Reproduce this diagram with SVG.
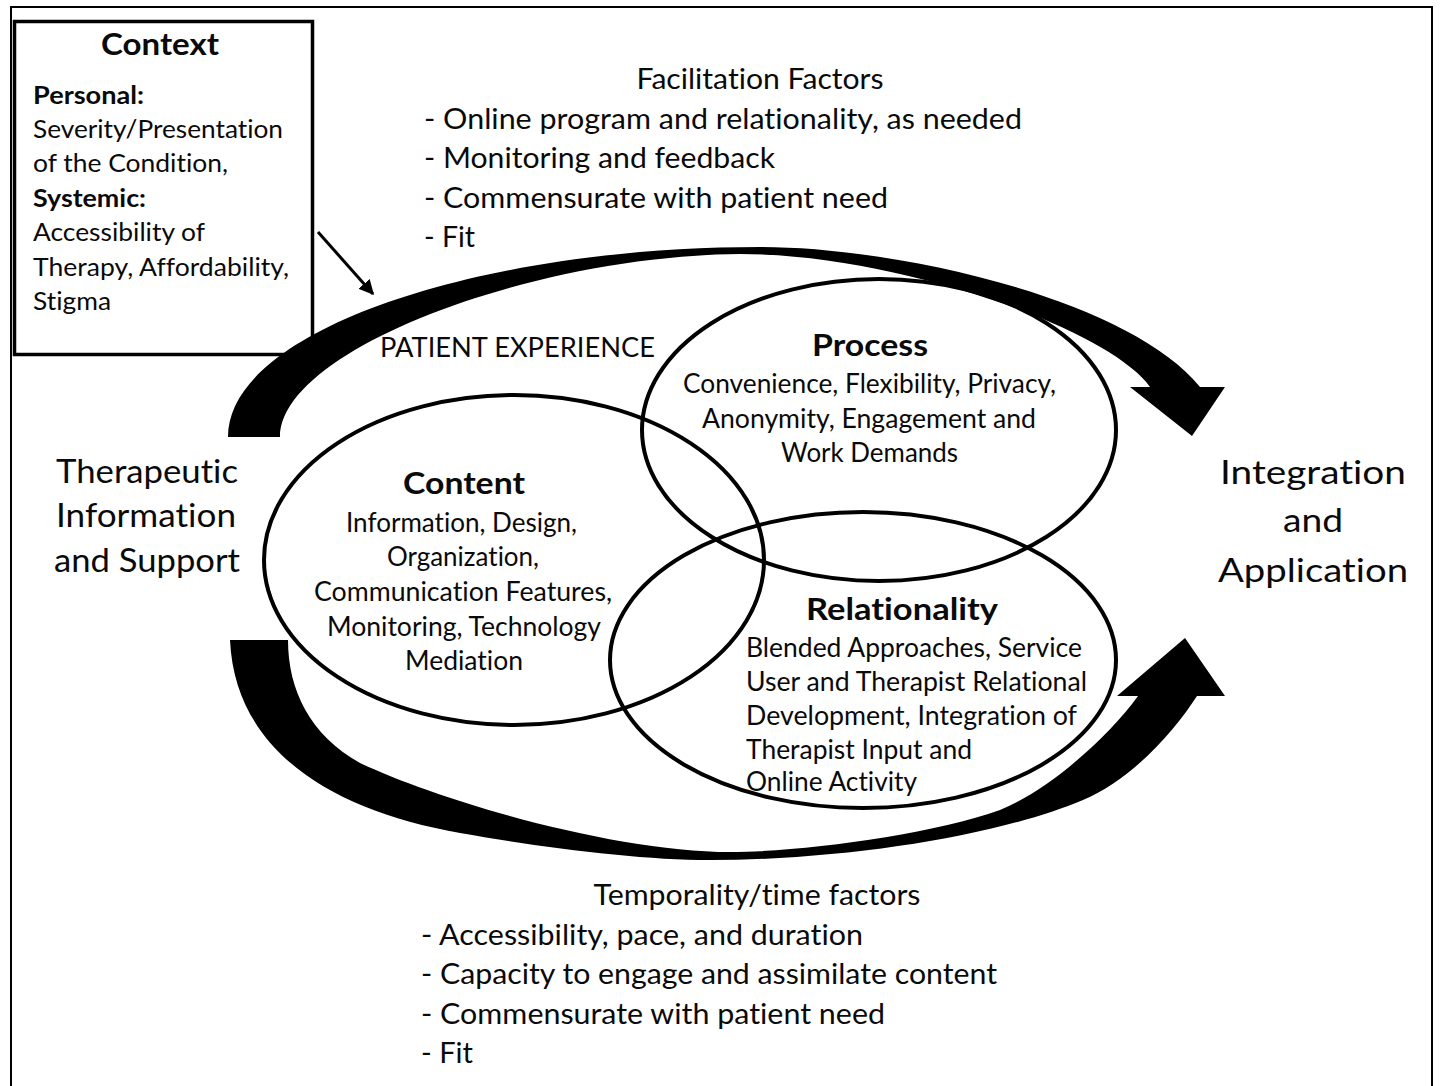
<svg xmlns="http://www.w3.org/2000/svg" width="1442" height="1086" viewBox="0 0 1442 1086">
  <style>
    text { font-family: Lato, "Open Sans", "Liberation Sans", sans-serif; fill: #0a0a0a; font-variant-ligatures: none; font-feature-settings: "liga" 0, "clig" 0; }
    .list { font-size: 28px; }
    .ctx { font-size: 25px; }
    .body { font-size: 26px; }
    .head { font-size: 30px; font-weight: bold; }
    .sub { font-size: 25px; font-weight: bold; }
    .side { font-size: 33px; }
    .mid { text-anchor: middle; }
    .ring { fill: none; stroke: #000; stroke-width: 4; }
    .band { fill: #000; stroke: none; }
  </style>
  <defs>
    <marker id="tip" viewBox="0 0 10 10" refX="9" refY="5" markerWidth="5" markerHeight="5" orient="auto" markerUnits="strokeWidth">
      <path d="M0,0 L10,5 L0,10 Z" fill="#000"/>
    </marker>
  </defs>

  <rect x="0" y="0" width="1442" height="1086" fill="#fff"/>
  <!-- page frame (open at the bottom) -->
  <rect x="11" y="7" width="1421" height="1100" fill="none" stroke="#000" stroke-width="2"/>

  <!-- Context box -->
  <g id="context">
    <rect x="14.5" y="21.5" width="298" height="333" fill="#fff" stroke="#000" stroke-width="3.5"/>
    <text class="head mid" x="160" y="55" textLength="118" lengthAdjust="spacingAndGlyphs">Context</text>
    <text class="sub" x="33" y="104" textLength="111" lengthAdjust="spacingAndGlyphs">Personal:</text>
    <text class="ctx" x="33" y="138" textLength="250" lengthAdjust="spacingAndGlyphs">Severity/Presentation</text>
    <text class="ctx" x="33" y="172" textLength="195" lengthAdjust="spacingAndGlyphs">of the Condition,</text>
    <text class="sub" x="33" y="207" textLength="113" lengthAdjust="spacingAndGlyphs">Systemic:</text>
    <text class="ctx" x="33" y="241" textLength="172" lengthAdjust="spacingAndGlyphs">Accessibility of</text>
    <text class="ctx" x="33" y="276" textLength="256" lengthAdjust="spacingAndGlyphs">Therapy, Affordability,</text>
    <text class="ctx" x="33" y="310" textLength="78" lengthAdjust="spacingAndGlyphs">Stigma</text>
  </g>

  <!-- Connectors: curved flow bands and the context pointer -->
  <g id="connectors">
    <path id="band-top" class="band" d="M228,437 C228,330 480,247 760,247 C900,247 1130,300 1200,387 L1225,387 L1192,436 L1130,387 L1150,387 C1110,330 900,254 740,254 C530,256 280,350 280,437 Z"/>
    <path id="band-bottom" class="band" d="M230,640 C235,750 330,810 460,833 C540,847 640,860 710,860 C850,860 1000,835 1083,800 C1133,779 1175,730 1197,696 L1225,696 L1185,638 L1117,696 L1138,696 C1110,735 1050,790 1000,810 C930,835 800,852 730,852 C620,852 450,805 360,763 C310,735 288,690 288,640 Z"/>
    <line x1="318" y1="232" x2="373" y2="294" stroke="#000" stroke-width="3" marker-end="url(#tip)"/>
  </g>

  <!-- Top factor list -->
  <g id="facilitation">
    <text class="list mid" x="760" y="89" textLength="247" lengthAdjust="spacingAndGlyphs">Facilitation Factors</text>
    <text class="list" x="424" y="129" textLength="598" lengthAdjust="spacingAndGlyphs">- Online program and relationality, as needed</text>
    <text class="list" x="424" y="168" textLength="351" lengthAdjust="spacingAndGlyphs">- Monitoring and feedback</text>
    <text class="list" x="424" y="208" textLength="464" lengthAdjust="spacingAndGlyphs">- Commensurate with patient need</text>
    <text class="list" x="424" y="247" textLength="51" lengthAdjust="spacingAndGlyphs">- Fit</text>
  </g>

  <!-- Bottom factor list -->
  <g id="temporality">
    <text class="list mid" x="757" y="905" textLength="327" lengthAdjust="spacingAndGlyphs">Temporality/time factors</text>
    <text class="list" x="421" y="945" textLength="442" lengthAdjust="spacingAndGlyphs">- Accessibility, pace, and duration</text>
    <text class="list" x="421" y="984" textLength="576" lengthAdjust="spacingAndGlyphs">- Capacity to engage and assimilate content</text>
    <text class="list" x="421" y="1024" textLength="464" lengthAdjust="spacingAndGlyphs">- Commensurate with patient need</text>
    <text class="list" x="421" y="1063" textLength="52" lengthAdjust="spacingAndGlyphs">- Fit</text>
  </g>

  <g id="patient-experience">
    <text class="body" x="380" y="357" textLength="275" lengthAdjust="spacingAndGlyphs">PATIENT EXPERIENCE</text>
  </g>

  <!-- Start and end labels -->
  <g id="therapeutic-information">
    <text class="side mid" x="147" y="483" textLength="182" lengthAdjust="spacingAndGlyphs">Therapeutic</text>
    <text class="side mid" x="146" y="527" textLength="180" lengthAdjust="spacingAndGlyphs">Information</text>
    <text class="side mid" x="147" y="572" textLength="186" lengthAdjust="spacingAndGlyphs">and Support</text>
  </g>
  <g id="integration-application">
    <text class="side mid" x="1313" y="484" textLength="186" lengthAdjust="spacingAndGlyphs">Integration</text>
    <text class="side mid" x="1313" y="532" textLength="60" lengthAdjust="spacingAndGlyphs">and</text>
    <text class="side mid" x="1313" y="582" textLength="190" lengthAdjust="spacingAndGlyphs">Application</text>
  </g>

  <!-- Overlapping domains -->
  <g id="process">
    <ellipse class="ring" cx="879" cy="430" rx="237" ry="151"/>
    <text class="head mid" x="870" y="356" textLength="116" lengthAdjust="spacingAndGlyphs">Process</text>
    <text class="body mid" x="869.5" y="393" textLength="373" lengthAdjust="spacingAndGlyphs">Convenience, Flexibility, Privacy,</text>
    <text class="body mid" x="869" y="428" textLength="334" lengthAdjust="spacingAndGlyphs">Anonymity, Engagement and</text>
    <text class="body mid" x="869.5" y="462" textLength="177" lengthAdjust="spacingAndGlyphs">Work Demands</text>
  </g>
  <g id="content">
    <ellipse class="ring" cx="514" cy="560" rx="250" ry="165"/>
    <text class="head mid" x="464" y="494" textLength="122" lengthAdjust="spacingAndGlyphs">Content</text>
    <text class="body mid" x="461.5" y="532" textLength="231" lengthAdjust="spacingAndGlyphs">Information, Design,</text>
    <text class="body mid" x="463" y="566" textLength="152" lengthAdjust="spacingAndGlyphs">Organization,</text>
    <text class="body mid" x="463" y="601" textLength="298" lengthAdjust="spacingAndGlyphs">Communication Features,</text>
    <text class="body mid" x="464" y="636" textLength="274" lengthAdjust="spacingAndGlyphs">Monitoring, Technology</text>
    <text class="body mid" x="464" y="670" textLength="118" lengthAdjust="spacingAndGlyphs">Mediation</text>
  </g>
  <g id="relationality">
    <ellipse class="ring" cx="863" cy="660" rx="253" ry="148"/>
    <text class="head mid" x="902" y="620" textLength="192" lengthAdjust="spacingAndGlyphs">Relationality</text>
    <text class="body" x="746" y="657" textLength="336" lengthAdjust="spacingAndGlyphs">Blended Approaches, Service</text>
    <text class="body" x="746" y="691" textLength="341" lengthAdjust="spacingAndGlyphs">User and Therapist Relational</text>
    <text class="body" x="746" y="725" textLength="331" lengthAdjust="spacingAndGlyphs">Development, Integration of</text>
    <text class="body" x="746" y="759" textLength="226" lengthAdjust="spacingAndGlyphs">Therapist Input and</text>
    <text class="body" x="746" y="791" textLength="171" lengthAdjust="spacingAndGlyphs">Online Activity</text>
  </g>
</svg>
